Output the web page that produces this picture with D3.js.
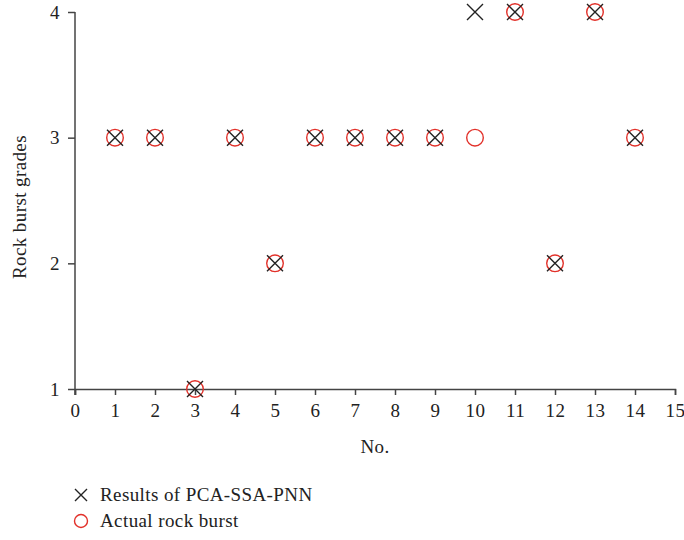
<!DOCTYPE html>
<html>
<head>
<meta charset="utf-8">
<script src="https://cdn.jsdelivr.net/npm/d3@7"></script>
<style>
  body { margin: 0; background: #fff; }
  svg text { font-family: "Liberation Serif", "DejaVu Serif", serif; fill: #222; letter-spacing: 0.4px; }
  .axis path, .axis line { stroke: #444; stroke-width: 1.5; }
</style>
</head>
<body>
<svg id="chart"></svg>
<script>
const sampleNo = [1, 2, 3, 4, 5, 6, 7, 8, 9, 10, 11, 12, 13, 14];
const predicted = [3, 3, 1, 3, 2, 3, 3, 3, 3, 4, 4, 2, 4, 3];
const actual = [3, 3, 1, 3, 2, 3, 3, 3, 3, 3, 4, 2, 4, 3];
const xTicks = d3.range(0, 16);
const yTicks = [1, 2, 3, 4];

const width = 684;
const height = 540;
const fontSize = "19px";

const svg = d3.select("#chart").attr("width", width).attr("height", height);

const x = d3.scaleLinear().domain([0, 15]).range([75, 675]);
const y = d3.scaleLinear().domain([1, 4]).range([389, 12]);

// x axis
svg.append("g")
  .attr("class", "axis")
  .attr("transform", "translate(0,389)")
  .call(d3.axisBottom(x).tickValues(xTicks).tickFormat(d3.format("d")).tickSize(6).tickPadding(9))
  .call((g) => g.selectAll("text").style("font-size", fontSize).attr("fill", "#222"));

// y axis
svg.append("g")
  .attr("class", "axis")
  .attr("transform", "translate(75,0)")
  .call(d3.axisLeft(y).tickValues(yTicks).tickFormat(d3.format("d")).tickSize(7).tickPadding(8))
  .call((g) => g.select(".domain").attr("d", "M0,12V395"))
  .call((g) => g.selectAll("text").style("font-size", fontSize).attr("fill", "#222"));

// axis titles
svg.append("text")
  .attr("x", 375)
  .attr("y", 453)
  .attr("text-anchor", "middle")
  .style("font-size", fontSize)
  .text("No.");

svg.append("text")
  .attr("transform", "translate(26,207) rotate(-90)")
  .attr("text-anchor", "middle")
  .style("font-size", fontSize)
  .text("Rock burst grades");

const red = "#e2312a";
const cross = (g, cx, cy, s) => {
  g.append("path")
    .attr("d", `M${cx - s},${cy - s}L${cx + s},${cy + s}M${cx - s},${cy + s}L${cx + s},${cy - s}`)
    .attr("stroke", "#222")
    .attr("stroke-width", 1.4)
    .attr("fill", "none");
};

// actual rock burst (circles)
const marks = svg.append("g");
marks.selectAll("circle")
  .data(sampleNo.map((n, i) => ({ n, v: actual[i] })))
  .enter()
  .append("circle")
  .attr("cx", (d) => x(d.n))
  .attr("cy", (d) => y(d.v))
  .attr("r", 8.3)
  .attr("fill", "none")
  .attr("stroke", red)
  .attr("stroke-width", 1.4);

// predicted (crosses)
sampleNo.forEach((n, i) => cross(marks, x(n), y(predicted[i]), 8));

// legend
const legend = svg.append("g");
cross(legend, 81, 495, 6);
legend.append("text").attr("x", 100).attr("y", 501).style("font-size", fontSize).text("Results of PCA-SSA-PNN");
legend.append("circle").attr("cx", 81).attr("cy", 521).attr("r", 6.5)
  .attr("fill", "none").attr("stroke", red).attr("stroke-width", 1.4);
legend.append("text").attr("x", 100).attr("y", 527).style("font-size", fontSize).text("Actual rock burst");
</script>
</body>
</html>
